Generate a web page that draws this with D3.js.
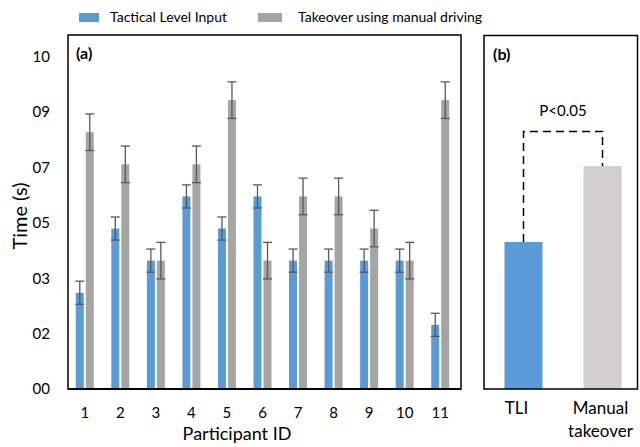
<!DOCTYPE html>
<html>
<head>
<meta charset="utf-8">
<script src="https://cdn.jsdelivr.net/npm/d3@7"></script>
<style>
  body { margin: 0; background: #fff; }
  text { font-family: Lato, "Open Sans", sans-serif; fill: #000; }
</style>
</head>
<body>
<svg id="chart" width="640" height="447"></svg>
<script>
const participants = ["1", "2", "3", "4", "5", "6", "7", "8", "9", "10", "11"];
const tliTimes = [3, 5, 4, 6, 5, 6, 4, 4, 4, 4, 2];
const tliErr = [0.36, 0.36, 0.36, 0.36, 0.36, 0.36, 0.36, 0.36, 0.36, 0.36, 0.36];
const manualTimes = [8, 7, 4, 7, 9, 4, 6, 6, 5, 4, 9];
const manualErr = [0.57, 0.57, 0.57, 0.57, 0.57, 0.57, 0.57, 0.57, 0.57, 0.57, 0.57];
const tickLabels = ["00", "02", "03", "05", "07", "09", "10"];
const tickStep = 1.725;
const summaryLabels = [["TLI"], ["Manual", "takeover"]];
const summaryTimes = [4.58, 6.95];

const svg = d3.select("#chart");

const blue = "#5b9bd5", gray = "#a5a5a5", lightGray = "#d0cece", errColor = "#595959";

const y = d3.scaleLinear().domain([0, 11.03]).range([389, 35]);

// y axis labels
svg.append("g")
  .selectAll("text")
  .data(tickLabels)
  .join("text")
  .attr("x", 50)
  .attr("y", (d, i) => y(i * tickStep))
  .attr("dy", "0.35em")
  .attr("text-anchor", "end")
  .attr("font-size", "15px")
  .text(d => d);

svg.append("text")
  .attr("transform", "translate(27,216) rotate(-90)")
  .attr("text-anchor", "middle")
  .attr("font-size", "20px")
  .text("Time (s)");

// panel (a)
const x = d3.scaleBand().domain(participants).range([67, 458]);
const barW = 8;

const groups = svg.append("g")
  .selectAll("g")
  .data(participants)
  .join("g")
  .attr("transform", d => `translate(${x(d) + x.bandwidth() / 2},0)`);

const series = [
  { vals: tliTimes, err: tliErr, color: blue, off: -1 - barW },
  { vals: manualTimes, err: manualErr, color: gray, off: 1 }
];

series.forEach(s => {
  groups.append("rect")
    .attr("x", s.off)
    .attr("width", barW)
    .attr("y", (d, i) => y(s.vals[i]))
    .attr("height", (d, i) => y(0) - y(s.vals[i]))
    .attr("fill", s.color);

  const cx = s.off + barW / 2;
  const eb = groups.append("g")
    .attr("stroke", errColor)
    .attr("stroke-width", 1.3);
  eb.append("line")
    .attr("x1", cx).attr("x2", cx)
    .attr("y1", (d, i) => y(s.vals[i] + s.err[i]))
    .attr("y2", (d, i) => y(s.vals[i] - s.err[i]));
  eb.append("line")
    .attr("x1", cx - 4.5).attr("x2", cx + 4.5)
    .attr("y1", (d, i) => y(s.vals[i] + s.err[i]))
    .attr("y2", (d, i) => y(s.vals[i] + s.err[i]));
  eb.append("line")
    .attr("x1", cx - 4.5).attr("x2", cx + 4.5)
    .attr("y1", (d, i) => y(s.vals[i] - s.err[i]))
    .attr("y2", (d, i) => y(s.vals[i] - s.err[i]));
});

groups.append("text")
  .attr("y", 413)
  .attr("dy", "0.35em")
  .attr("text-anchor", "middle")
  .attr("font-size", "15px")
  .text(d => d);

svg.append("rect")
  .attr("x", 68).attr("y", 35)
  .attr("width", 393).attr("height", y(0) - 35)
  .attr("fill", "none").attr("stroke", "#000").attr("stroke-width", 1.5);
svg.append("line")
  .attr("x1", 68).attr("x2", 461)
  .attr("y1", y(0)).attr("y2", y(0))
  .attr("stroke", "#000").attr("stroke-width", 2);

svg.append("text")
  .attr("x", 76).attr("y", 59)
  .attr("font-size", "16px").attr("font-weight", "bold")
  .text("(a)");

svg.append("text")
  .attr("x", 237).attr("y", 434)
  .attr("dy", "0.35em")
  .attr("text-anchor", "middle")
  .attr("font-size", "18px")
  .text("Participant ID");

// panel (b)
const xb = d3.scaleBand().domain([0, 1]).range([484, 642]).paddingInner(0.5).paddingOuter(0.25);
const bw = 38;
const bx = i => xb(i) + xb.bandwidth() / 2;

svg.append("g")
  .selectAll("rect")
  .data(summaryTimes)
  .join("rect")
  .attr("x", (d, i) => bx(i) - bw / 2)
  .attr("width", bw)
  .attr("y", d => y(d))
  .attr("height", d => y(0) - y(d))
  .attr("fill", (d, i) => i === 0 ? blue : lightGray);

const bracketY = 131.5;
svg.append("path")
  .attr("d", `M${bx(0)},${y(summaryTimes[0])} V${bracketY} H${bx(1)} V${y(summaryTimes[1])}`)
  .attr("fill", "none")
  .attr("stroke", "#000")
  .attr("stroke-width", 1.5)
  .attr("stroke-dasharray", "8,5");

svg.append("text")
  .attr("x", (bx(0) + bx(1)) / 2).attr("y", 111)
  .attr("dy", "0.35em")
  .attr("text-anchor", "middle")
  .attr("font-size", "15px")
  .text("P<0.05");

summaryLabels.forEach((lines, i) => {
  lines.forEach((t, j) => {
    svg.append("text")
      .attr("x", bx(i) + (i === 0 ? -7 : -2)).attr("y", 408 + j * 23)
      .attr("dy", "0.35em")
      .attr("text-anchor", "middle")
      .attr("font-size", "17px")
      .text(t);
  });
});

svg.append("rect")
  .attr("x", 484).attr("y", 35.5)
  .attr("width", 153.5).attr("height", y(0) - 35.5)
  .attr("fill", "none").attr("stroke", "#000").attr("stroke-width", 1.5);

svg.append("text")
  .attr("x", 493).attr("y", 60)
  .attr("font-size", "16px").attr("font-weight", "bold")
  .text("(b)");

// legend
const legendItems = [
  { label: "Tactical Level Input", color: blue, sx: 79, tx: 110 },
  { label: "Takeover using manual driving", color: gray, sx: 258, tx: 298 }
];
const legend = svg.append("g");
legend.selectAll("rect")
  .data(legendItems)
  .join("rect")
  .attr("x", d => d.sx).attr("y", 13)
  .attr("width", d => d.tx - d.sx - 10 > 22 ? 24 : 20).attr("height", 9)
  .attr("fill", d => d.color);
legend.selectAll("text")
  .data(legendItems)
  .join("text")
  .attr("x", d => d.tx).attr("y", 17.5)
  .attr("dy", "0.35em")
  .attr("font-size", "14px")
  .text(d => d.label);
</script>
</body>
</html>
